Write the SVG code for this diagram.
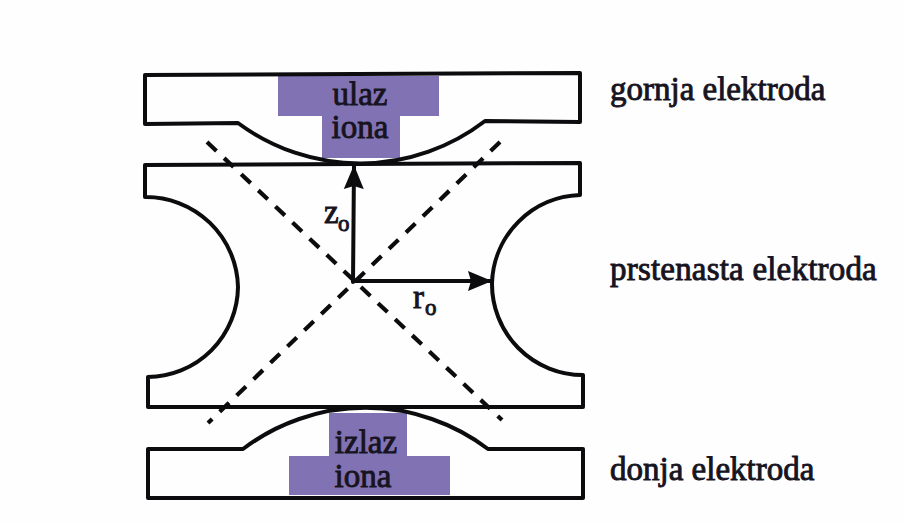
<svg xmlns="http://www.w3.org/2000/svg" width="904" height="524" viewBox="0 0 904 524">
<style>
.e{fill:none;stroke:#0c0c0e;stroke-width:4;stroke-linejoin:round;stroke-linecap:round}
.p{fill:#8173b3}
.d{fill:none;stroke:#0c0c0e;stroke-width:4.2;stroke-dasharray:13 10.5}
.t{font-family:"Liberation Serif",serif;fill:#17141f;stroke:#17141f;stroke-width:.9}
.l{font-size:33px}
.i{font-size:33px;text-anchor:middle}
</style>
<defs>
<marker id="a" markerUnits="userSpaceOnUse" markerWidth="26" markerHeight="22" refX="24" refY="11" orient="auto"><path d="M0 1L24 11L0 21L3 11Z" fill="#0c0c0e"/></marker>
</defs>
<rect width="904" height="524" fill="#fefefe"/>
<g id="gornja-elektroda">
<path class="p" d="M278 76H439V116H400V158H322V116H278Z"/>
<path class="e" d="M145 75L580 73V122L485 121A205 205 0 0 1 238 123L145 124Z"/>
<text class="t i" x="360" y="105">ulaz</text>
<text class="t i" x="360" y="138">iona</text>
<text class="t l" x="610" y="100">gornja elektroda</text>
</g>
<g id="prstenasta-elektroda">
<path class="e" d="M145 165L580 163V195A91 91 0 0 0 492 283A91 91 0 0 0 583 375V407H148V377A91 91 0 0 0 238 287A92 92 0 0 0 145 197Z"/>
<text class="t l" x="610" y="280" style="letter-spacing:.2px">prstenasta elektroda</text>
</g>
<g id="donja-elektroda">
<path class="p" d="M329 413H407V456H450V495H289V456H329Z"/>
<path class="e" d="M148 449H243A203 203 0 0 1 488 449H583V498H148Z"/>
<text class="t i" x="366" y="453">izlaz</text>
<text class="t i" x="363" y="487">iona</text>
<text class="t l" x="610" y="480">donja elektroda</text>
</g>
<g id="connectors">
<path class="d" d="M207 142L502 420"/>
<path class="d" d="M500 142L208 423"/>
<path class="e" marker-end="url(#a)" d="M353 282L354 165"/>
<path class="e" marker-end="url(#a)" d="M353 281H492"/>
</g>
<g id="labels">
<text class="t" x="324" y="223" font-size="33">z</text>
<text class="t" x="338" y="231" font-size="23">o</text>
<text class="t" x="413" y="308" font-size="33">r</text>
<text class="t" x="425" y="315" font-size="23">o</text>
</g>
</svg>
